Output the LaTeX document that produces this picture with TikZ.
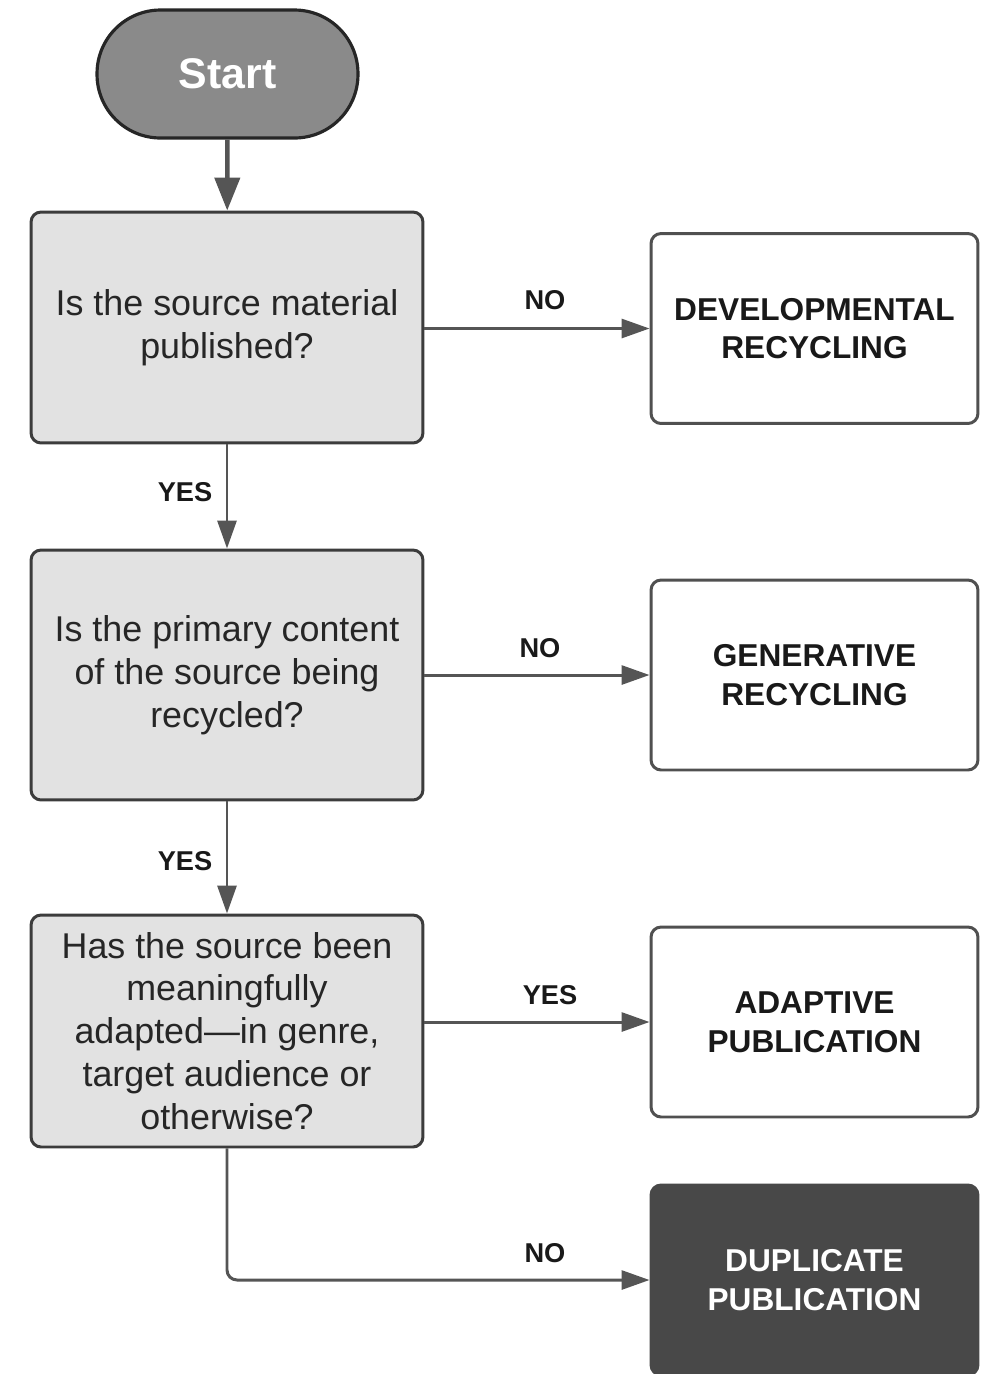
\documentclass[tikz,border=0pt]{standalone}
\usepackage{fontspec}
\setmainfont{Liberation Sans}
\usetikzlibrary{arrows.meta}
\definecolor{boxgray}{HTML}{E2E2E2}
\definecolor{edgegray}{HTML}{3C3C3C}
\definecolor{startgray}{HTML}{8A8A8A}
\definecolor{dupgray}{HTML}{484848}
\definecolor{linegray}{HTML}{555555}
\tikzset{
  qbox/.style={draw=edgegray, line width=1.7pt, fill=boxgray, rounded corners=0.2cm,
    minimum width=7.84cm, align=center, font=\fontsize{20.4}{24.4}\selectfont, text=black!85, inner sep=0pt},
  rbox/.style={draw=edgegray!90, line width=1.7pt, fill=white, rounded corners=0.2cm,
    minimum width=6.54cm, minimum height=3.8cm, align=center, font=\bfseries\fontsize{18}{22}\selectfont, text=black!90, inner sep=0pt},
  arr/.style={draw=linegray, line width=1.7pt, -{Triangle[length=0.56cm,width=0.38cm]}},
  lab/.style={font=\bfseries\fontsize{15.5}{18}\selectfont, text=black!90, inner sep=0pt},
}
\begin{document}
\begin{tikzpicture}[x=0.02cm,y=-0.02cm]
\clip (0,0) rectangle (995,1374);
\fill[white] (0,0) rectangle (995,1374);
\node[draw=black!85, line width=1.8pt, fill=startgray, rounded corners=1.27cm,
  minimum width=5.22cm, minimum height=2.56cm, text=white,
  font=\bfseries\fontsize{24.4}{28}\selectfont] (start) at (227.5,74) {Start};
\node[qbox, minimum height=4.62cm] (q1) at (227,327.5) {Is the source material\\published?};
\node[qbox, minimum height=5.0cm] (q2) at (227,675) {Is the primary content\\of the source being\\recycled?};
\node[qbox, minimum height=4.64cm] (q3) at (227,1031) {Has the source been\\meaningfully\\adapted—in genre,\\target audience or\\otherwise?};
\node[rbox] (dev) at (814.5,328.5) {DEVELOPMENTAL\\RECYCLING};
\node[rbox] (gen) at (814.5,675) {GENERATIVE\\RECYCLING};
\node[rbox] (ada) at (814.5,1022) {ADAPTIVE\\PUBLICATION};
\node[rbox, fill=dupgray, draw=dupgray, text=white] (dup) at (814.5,1280) {DUPLICATE\\PUBLICATION};
\draw[arr, line width=2.6pt, -{Triangle[length=0.66cm,width=0.5cm]}] (start) -- (q1);
\draw[arr] (q1.east |- dev.west) -- (dev.west);
\draw[arr] (q1) -- (q2);
\draw[arr] (q2.east |- gen.west) -- (gen.west);
\draw[arr] (q2) -- (q3);
\draw[arr] (q3.east |- ada.west) -- (ada.west);
\draw[arr, rounded corners=0.2cm] (q3.south) |- (dup.west);
\node[lab] (l1) at (545,300) {NO};
\node[lab] (l2) at (185,492) {YES};
\node[lab] (l3) at (540,648) {NO};
\node[lab] (l4) at (185,861) {YES};
\node[lab] (l5) at (550,995) {YES};
\node[lab] (l6) at (545,1253) {NO};
\end{tikzpicture}
\end{document}
